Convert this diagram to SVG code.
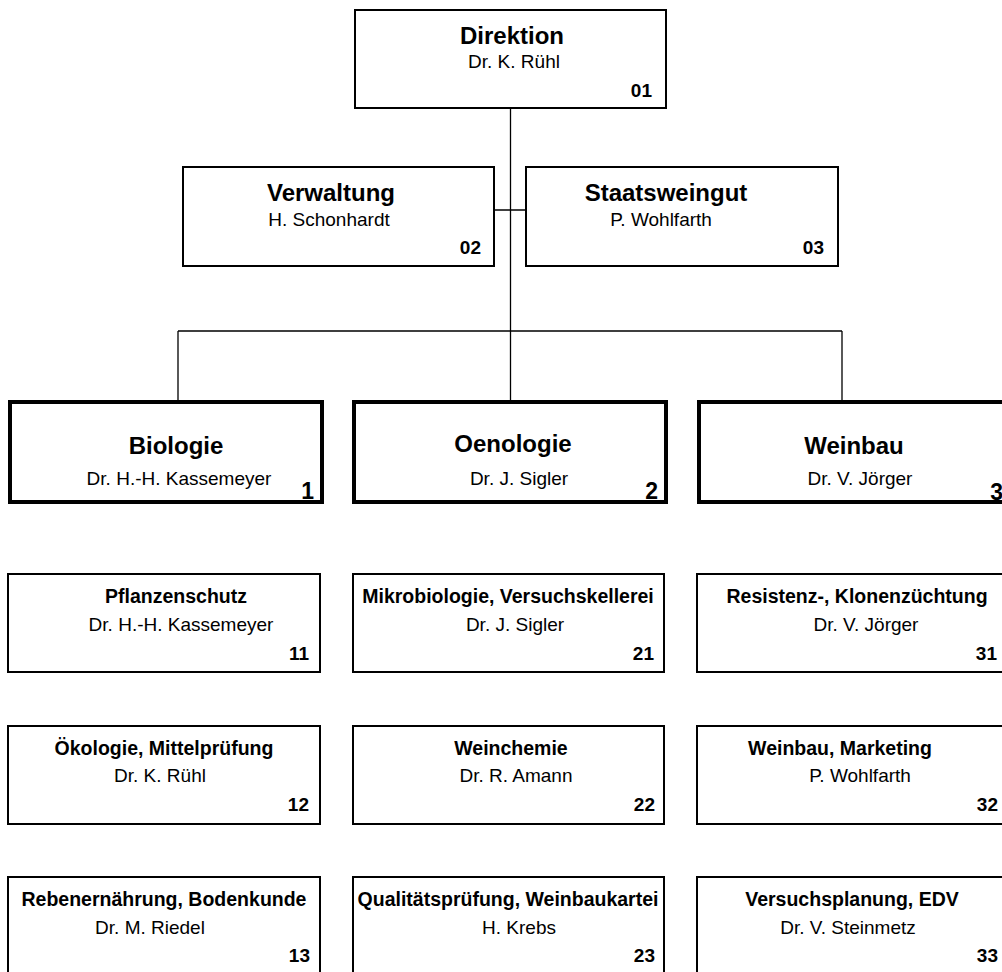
<svg xmlns="http://www.w3.org/2000/svg" width="1002" height="972" viewBox="0 0 1002 972">
<style>
text{font-family:"Liberation Sans",Arial,sans-serif;fill:#000}
.box{fill:#fff;stroke:#000;stroke-width:2}
.main{fill:#fff;stroke:#000;stroke-width:4}
.t1{font-size:24px;font-weight:bold;text-anchor:middle}
.t2{font-size:19.5px;font-weight:bold;text-anchor:middle}
.s{font-size:19px;text-anchor:middle}
.n{font-size:19px;font-weight:bold;text-anchor:end}
.nm{font-size:23px;font-weight:bold;text-anchor:end}
.c{fill:none;stroke:#000;stroke-width:1.3}
</style>
<rect width="1002" height="972" fill="#fff"/>
<g id="connectors">
<path class="c" d="M510.5 108V402M494 210H526M178 331H842M178 331V402M842 331V402"/>
</g>
<g id="n01"><rect class="box" x="355" y="10" width="311" height="98"/><text class="t1" x="512" y="44">Direktion</text><text class="s" x="514" y="68">Dr. K. Rühl</text><text class="n" x="652" y="97">01</text></g>
<g id="n02"><rect class="box" x="183" y="167" width="311" height="99"/><text class="t1" x="331" y="201">Verwaltung</text><text class="s" x="329" y="226">H. Schonhardt</text><text class="n" x="481" y="254">02</text></g>
<g id="n03"><rect class="box" x="526" y="167" width="312" height="99"/><text class="t1" x="666" y="201">Staatsweingut</text><text class="s" x="661" y="226">P. Wohlfarth</text><text class="n" x="824" y="254">03</text></g>
<g id="n1"><rect class="main" x="10" y="402" width="312" height="100"/><text class="t1" x="176" y="454">Biologie</text><text class="s" x="179" y="485">Dr. H.-H. Kassemeyer</text><text class="nm" x="314" y="499">1</text></g>
<g id="n2"><rect class="main" x="354" y="402" width="312" height="100"/><text class="t1" x="513" y="452">Oenologie</text><text class="s" x="519" y="485">Dr. J. Sigler</text><text class="nm" x="658" y="499">2</text></g>
<g id="n3"><rect class="main" x="699" y="402" width="312" height="100"/><text class="t1" x="854" y="454">Weinbau</text><text class="s" x="860" y="485">Dr. V. Jörger</text><text class="nm" x="1003" y="500">3</text></g>
<g id="n11"><rect class="box" x="8" y="574" width="312" height="98"/><text class="t2" x="176" y="603">Pflanzenschutz</text><text class="s" x="181" y="631">Dr. H.-H. Kassemeyer</text><text class="n" x="309" y="660">11</text></g>
<g id="n21"><rect class="box" x="353" y="574" width="311" height="98"/><text class="t2" x="508" y="603">Mikrobiologie, Versuchskellerei</text><text class="s" x="515" y="631">Dr. J. Sigler</text><text class="n" x="654" y="660">21</text></g>
<g id="n31"><rect class="box" x="697" y="574" width="312" height="98"/><text class="t2" x="857" y="603">Resistenz-, Klonenzüchtung</text><text class="s" x="866" y="631">Dr. V. Jörger</text><text class="n" x="997" y="660">31</text></g>
<g id="n12"><rect class="box" x="8" y="726" width="312" height="98"/><text class="t2" x="164" y="755">Ökologie, Mittelprüfung</text><text class="s" x="160" y="782">Dr. K. Rühl</text><text class="n" x="309" y="811">12</text></g>
<g id="n22"><rect class="box" x="353" y="726" width="311" height="98"/><text class="t2" x="511" y="755">Weinchemie</text><text class="s" x="516" y="782">Dr. R. Amann</text><text class="n" x="655" y="811">22</text></g>
<g id="n32"><rect class="box" x="697" y="726" width="312" height="98"/><text class="t2" x="840" y="755">Weinbau, Marketing</text><text class="s" x="860" y="782">P. Wohlfarth</text><text class="n" x="998" y="811">32</text></g>
<g id="n13"><rect class="box" x="8" y="877" width="312" height="98"/><text class="t2" x="164" y="906">Rebenernährung, Bodenkunde</text><text class="s" x="150" y="934">Dr. M. Riedel</text><text class="n" x="310" y="962">13</text></g>
<g id="n23"><rect class="box" x="353" y="877" width="311" height="98"/><text class="t2" x="508" y="906">Qualitätsprüfung, Weinbaukartei</text><text class="s" x="519" y="934">H. Krebs</text><text class="n" x="655" y="962">23</text></g>
<g id="n33"><rect class="box" x="697" y="877" width="312" height="98"/><text class="t2" x="852" y="906">Versuchsplanung, EDV</text><text class="s" x="848" y="934">Dr. V. Steinmetz</text><text class="n" x="998" y="962">33</text></g>
</svg>
